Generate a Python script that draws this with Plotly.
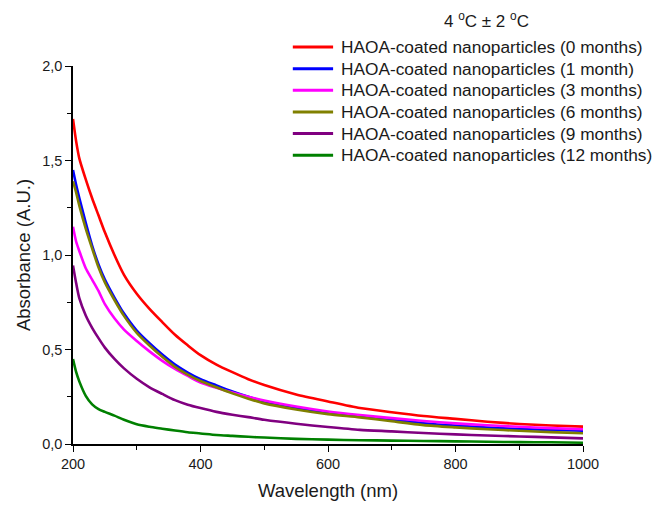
import plotly.graph_objects as go

# Wavelength grid (nm) shared by all spectra
wavelength = [200, 205, 210, 220, 230, 240, 250, 265, 280, 300, 320, 340, 360, 380,
              400, 425, 450, 475, 500, 550, 600, 650, 700, 750, 800, 850, 900, 950, 1000]

abs_0m = [1.72, 1.60, 1.51, 1.40, 1.30, 1.21, 1.12, 1.00, 0.895, 0.795, 0.715, 0.645, 0.578, 0.522,
          0.47, 0.42, 0.38, 0.343, 0.312, 0.262, 0.225, 0.19, 0.168, 0.148, 0.133, 0.118, 0.106, 0.098, 0.092]
abs_1m = [1.45, 1.37, 1.30, 1.17, 1.05, 0.95, 0.87, 0.775, 0.69, 0.60, 0.533, 0.473, 0.42, 0.378,
          0.343, 0.31, 0.278, 0.25, 0.225, 0.19, 0.165, 0.148, 0.128, 0.11, 0.097, 0.087, 0.079, 0.074, 0.07]
abs_3m = [1.15, 1.07, 1.02, 0.93, 0.87, 0.81, 0.74, 0.665, 0.605, 0.545, 0.49, 0.44, 0.397, 0.36,
          0.325, 0.297, 0.272, 0.25, 0.23, 0.198, 0.172, 0.153, 0.137, 0.122, 0.109, 0.099, 0.091, 0.084, 0.078]
abs_6m = [1.39, 1.33, 1.26, 1.14, 1.035, 0.935, 0.855, 0.762, 0.678, 0.588, 0.521, 0.461, 0.408, 0.367,
          0.333, 0.3, 0.268, 0.24, 0.215, 0.183, 0.158, 0.141, 0.12, 0.1, 0.088, 0.078, 0.07, 0.063, 0.057]
abs_9m = [0.945, 0.85, 0.77, 0.68, 0.615, 0.56, 0.51, 0.45, 0.4, 0.345, 0.3, 0.265, 0.232, 0.208,
          0.19, 0.17, 0.155, 0.142, 0.128, 0.107, 0.09, 0.075, 0.067, 0.058, 0.051, 0.045, 0.04, 0.035, 0.03]
abs_12m = [0.45, 0.38, 0.33, 0.255, 0.21, 0.185, 0.17, 0.15, 0.128, 0.104, 0.091, 0.081, 0.071, 0.062,
           0.056, 0.048, 0.043, 0.038, 0.034, 0.027, 0.023, 0.02, 0.018, 0.016, 0.014, 0.012, 0.01, 0.009, 0.007]

series_names = [
    "HAOA-coated nanoparticles (0 months)",
    "HAOA-coated nanoparticles (1 month)",
    "HAOA-coated nanoparticles (3 months)",
    "HAOA-coated nanoparticles (6 months)",
    "HAOA-coated nanoparticles (9 months)",
    "HAOA-coated nanoparticles (12 months)",
]
series_values = [abs_0m, abs_1m, abs_3m, abs_6m, abs_9m, abs_12m]
series_colors = ["#ff0000", "#0000ff", "#ff00ff", "#808000", "#800080", "#008000"]
legend_title = "4 <sup>o</sup>C ± 2 <sup>o</sup>C"

FONT = "Arial, Liberation Sans, sans-serif"
TEXT = "#1a1a1a"

fig = go.Figure()
for name, vals, col in zip(series_names, series_values, series_colors):
    fig.add_trace(go.Scatter(
        x=wavelength, y=vals, name=name, mode="lines", showlegend=False,
        line=dict(color=col, width=2.6, shape="spline", smoothing=0.7),
    ))

# Compact legend block in the upper right (paper coordinates)
LEG_X0, LEG_X1, LEG_TX = 0.431, 0.510, 0.522
LEG_Y0, LEG_DY = 1.05, 0.0572
shapes, annotations = [], []
for i, (name, col) in enumerate(zip(series_names, series_colors)):
    yy = LEG_Y0 - i * LEG_DY
    shapes.append(dict(type="line", xref="paper", yref="paper",
                       x0=LEG_X0, x1=LEG_X1, y0=yy, y1=yy,
                       line=dict(color=col, width=3)))
    annotations.append(dict(text=name, xref="paper", yref="paper", x=LEG_TX, y=yy,
                            xanchor="left", yanchor="middle", showarrow=False,
                            font=dict(family=FONT, size=17.3, color=TEXT)))
annotations.append(dict(
    text=legend_title, xref="paper", yref="paper", x=0.81, y=1.122,
    xanchor="center", yanchor="middle", showarrow=False,
    font=dict(family=FONT, size=17, color=TEXT),
))

fig.update_layout(
    width=663, height=507,
    margin=dict(l=73, r=80, t=66, b=63, autoexpand=False),
    paper_bgcolor="white", plot_bgcolor="white",
    separators=",.",
    font=dict(family=FONT, size=14, color=TEXT),
    showlegend=False,
    shapes=shapes,
    annotations=annotations,
)

fig.update_xaxes(
    range=[200, 1000], tickmode="linear", tick0=200, dtick=200,
    ticks="outside", ticklen=6, tickwidth=1.3, tickcolor="black",
    showline=True, linecolor="black", linewidth=1.5,
    showgrid=False, zeroline=False, automargin=False,
    minor=dict(dtick=100, ticks="outside", ticklen=4, tickcolor="black", showgrid=False),
    title=dict(text="Wavelength (nm)", font=dict(family=FONT, size=18.5, color=TEXT), standoff=13),
    tickfont=dict(family=FONT, size=14.5, color=TEXT),
)
fig.update_yaxes(
    range=[0, 2.0], tickmode="linear", tick0=0, dtick=0.5, tickformat=".1f",
    ticks="outside", ticklen=6, tickwidth=1.3, tickcolor="black",
    showline=True, linecolor="black", linewidth=1.5,
    showgrid=False, zeroline=False, automargin=False,
    minor=dict(dtick=0.25, ticks="outside", ticklen=4, tickcolor="black", showgrid=False),
    title=dict(text="Absorbance (A.U.)", font=dict(family=FONT, size=18.5, color=TEXT), standoff=7),
    tickfont=dict(family=FONT, size=14.5, color=TEXT),
)

fig.write_html("out.html")
